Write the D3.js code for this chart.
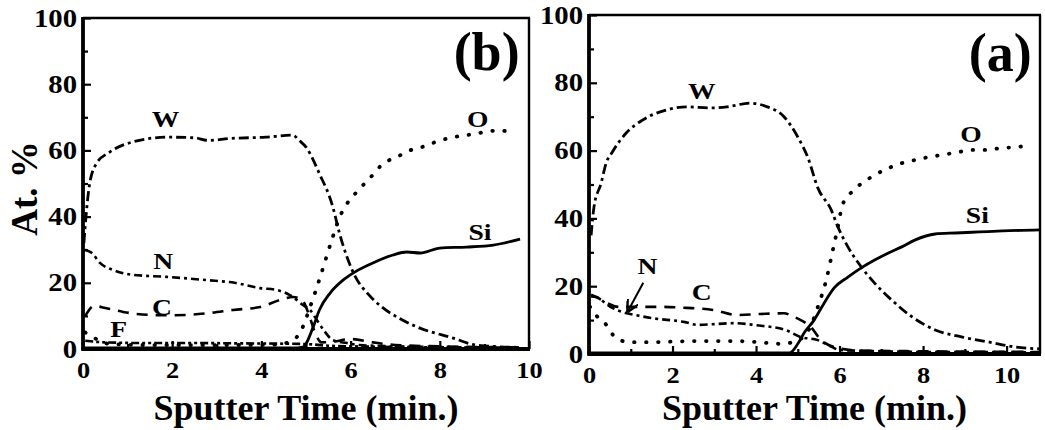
<!DOCTYPE html>
<html>
<head>
<meta charset="utf-8">
<script src="https://cdn.jsdelivr.net/npm/d3@7"></script>
<style>
  html, body { margin: 0; padding: 0; background: #fff; }
  svg { display: block; }
  text { font-family: "Liberation Serif", "Times New Roman", serif; font-weight: bold; fill: #000; }
</style>
</head>
<body>
<svg id="chart" width="1045" height="430"></svg>
<script>
// ---------- DATA ----------
const yTicksMajor = [0, 20, 40, 60, 80, 100];
const yTicksMinor = [10, 30, 50, 70, 90];
const xTicksB = [0, 2, 4, 6, 8, 10];
const xTicksA = [0, 2, 4, 6, 8, 10];
const xMinorB = [1, 3, 5, 7, 9];
const xMinorA = [1, 3, 5, 7, 9];
const xDomainB = [0, 10];
const xDomainA = [0, 10.8];
const yTitle = "At. %";
const xTitle = "Sputter Time (min.)";

// Panel (b) — [time (min), at.%]
const bW = [[0.02,32],[0.08,42],[0.15,50],[0.3,56],[0.6,59.5],[1.1,62.5],[1.9,64],[2.5,63.8],[2.8,63],[3.3,63.6],[4.1,64],[4.7,64.6],[4.85,63],[5.0,61],[5.3,53],[5.6,43],[5.75,35],[6.1,22],[6.4,16.5],[6.7,12.7],[7.1,9.2],[7.5,6.6],[8.3,3.3],[8.8,1.2],[9.3,0.7],[9.8,0.5]];
const bO = [[0.05,5],[0.3,3],[0.6,1.5],[1.5,1.2],[3,1.2],[4.3,1.3],[4.6,2],[4.86,4.8],[5.1,13],[5.3,21],[5.58,33],[5.76,40],[5.9,43.5],[6.14,47.5],[6.43,51.6],[6.73,56],[7.04,58],[7.33,60],[7.6,61],[7.9,62.5],[8.3,64],[8.6,64.6],[8.9,65.3],[9.3,66],[9.6,65.6]];
const bSi = [[0,0.3],[2,0.3],[4.7,0.3],[4.93,0.6],[5.16,6.6],[5.3,11.8],[5.54,16.9],[5.83,20.8],[6.1,23.3],[6.5,26],[6.95,28.4],[7.26,29.3],[7.56,29],[8.0,30.5],[8.6,30.8],[9.2,31.4],[9.8,33.2]];
const bN = [[0.05,30],[0.2,29],[0.38,26],[0.67,23.9],[1.12,22.4],[1.88,21.8],[2.78,20.8],[3.4,20],[3.97,18.4],[4.35,17.8],[4.64,16.3],[4.93,13.3],[5.09,11.8],[5.27,8.2],[5.43,5.1],[5.6,2.7],[5.92,1.8],[6.2,1.2],[7,0.8],[8,0.6],[9.8,0.4]];
const bC = [[0.05,10],[0.25,13],[0.5,12.4],[0.9,11.2],[1.2,10.6],[1.85,10.2],[2.33,10.3],[2.85,10.9],[3.36,11.8],[3.97,12.7],[4.42,14.8],[4.71,15.7],[4.9,15],[5.05,11],[5.2,5],[5.35,2],[5.6,2.2],[6.0,3],[6.5,2],[7,1.2],[8,0.8],[9.8,0.5]];
const bF = [[0.05,2.5],[0.5,2],[1.5,1.8],[2.5,1.8],[3.5,1.7],[4.5,1.6],[5,1.5],[5.5,1],[6.5,0.7],[8,0.5],[9.8,0.4]];

// Panel (a)
const aW = [[0.05,35],[0.12,43.4],[0.29,50.4],[0.41,56.3],[0.56,59.6],[0.89,65.2],[1.28,69],[1.86,72],[2.34,72.9],[2.9,72.6],[3.3,72.9],[3.86,74],[4.27,72.9],[4.67,70],[5.0,64],[5.24,58],[5.48,49],[5.8,42.5],[5.96,37.5],[6.2,31.6],[6.52,25.7],[6.84,20.9],[7.25,15.9],[7.73,11],[8.29,7.1],[8.94,5],[9.59,3.5],[10.2,2.1],[10.8,1.5]];
const aO = [[0.02,14],[0.2,11],[0.36,9.4],[0.65,4.7],[0.97,3.5],[1.5,3.5],[2.5,3.8],[3.5,3.8],[4.03,3.5],[4.6,3],[5.0,4],[5.3,8],[5.48,13.9],[5.68,21.8],[5.84,30.7],[5.96,37.5],[6.07,44],[6.35,48.4],[6.76,52.2],[7.08,54.3],[7.49,56.3],[7.8,57.2],[8.14,58.1],[8.45,58.7],[8.86,59.6],[9.18,60.2],[9.5,60.2],[9.9,60.8],[10.2,61],[10.6,61.7]];
const aSi = [[0,0.3],[2,0.3],[4.8,0.3],[5.0,3],[5.15,6.2],[5.39,10],[5.63,15],[5.87,19.5],[6.2,22.7],[6.52,25.4],[6.84,27.7],[7.17,29.8],[7.49,31.6],[7.8,33.6],[8.29,35.4],[8.78,35.7],[9.35,36],[9.9,36.3],[10.8,36.6]];
const aN = [[0.05,17],[0.17,16.8],[0.5,14],[0.9,12],[1.1,11.5],[1.5,10.6],[2.3,9.4],[2.6,8.6],[3.5,9.1],[4.0,8.5],[4.7,7.1],[5.07,5],[5.48,4.1],[5.75,2.5],[6,1.2],[7,0.8],[8,0.6],[9,0.6],[10.8,0.5]];
const aC = [[0.05,17.5],[0.17,16.8],[0.72,13.9],[1.7,13.9],[2.34,13.6],[2.97,13],[3.55,11.5],[4.1,11.8],[4.67,12],[4.9,11],[5.07,10],[5.31,8],[5.56,4.1],[5.96,1.8],[6.5,1],[8,0.8],[10.8,0.6]];

// ---------- DRAWING ----------
const svg = d3.select("#chart");

const styles = {
  W:  { dash: "10,4,3,4", w: 2.8, cap: "butt" },
  N:  { dash: "8,4,3,4", w: 2.6, cap: "butt" },
  C:  { dash: "11,8", w: 2.6, cap: "butt" },
  O:  { dash: "0.5,11.5", w: 3.8, cap: "round" },
  Si: { dash: null, w: 2.8, cap: "butt" },
  F:  { dash: "8,3,3,3,3,3", w: 2.6, cap: "butt" }
};

function drawPanel(cfg) {
  const x = d3.scaleLinear().domain(cfg.xDomain).range([cfg.x0, cfg.x1]);
  const y = d3.scaleLinear().domain([0, 100]).range([cfg.y0, cfg.y1]);
  const g = svg.append("g");

  const line = d3.line().x(d => x(d[0])).y(d => y(d[1])).curve(d3.curveMonotoneX);
  cfg.series.forEach(s => {
    const st = styles[s.key];
    g.append("path")
      .datum(s.data)
      .attr("d", line)
      .attr("fill", "none")
      .attr("stroke", "#000")
      .attr("stroke-width", st.w)
      .attr("stroke-linecap", st.cap)
      .attr("stroke-dasharray", st.dash);
  });

  // axes (inward ticks)
  const yMaj = g.append("g").attr("transform", `translate(${cfg.x0},0)`)
    .call(d3.axisLeft(y).tickValues(yTicksMajor).tickSize(-8).tickPadding(7));
  g.append("g").attr("transform", `translate(${cfg.x0},0)`)
    .call(d3.axisLeft(y).tickValues(yTicksMinor).tickSize(-5).tickFormat(""));
  const xMaj = g.append("g").attr("transform", `translate(0,${cfg.y0})`)
    .call(d3.axisBottom(x).tickValues(cfg.xTicks).tickSize(-8).tickPadding(12));
  g.append("g").attr("transform", `translate(0,${cfg.y0})`)
    .call(d3.axisBottom(x).tickValues(cfg.xMinor).tickSize(-5).tickFormat(""));
  g.selectAll(".domain").remove();
  g.selectAll(".tick line").attr("stroke", "#000").attr("stroke-width", 2.2);
  yMaj.selectAll("text").style("font-size", "25px").attr("x", null)
    .attr("transform", "translate(-6,0) scale(1.15,1)");
  xMaj.selectAll("text").style("font-size", "24px")
    .attr("transform", "scale(1.1,1)");

  // frame
  g.append("line").attr("x1", cfg.x0).attr("x2", cfg.x0).attr("y1", cfg.y1 - 1).attr("y2", cfg.y0 + 1.5)
    .attr("stroke", "#000").attr("stroke-width", 3.8);
  g.append("line").attr("x1", cfg.x0 - 1.5).attr("x2", cfg.x1 + 1).attr("y1", cfg.y0).attr("y2", cfg.y0)
    .attr("stroke", "#000").attr("stroke-width", 3.8);
  g.append("line").attr("x1", cfg.x0).attr("x2", cfg.x1 + 1).attr("y1", cfg.y1).attr("y2", cfg.y1)
    .attr("stroke", "#000").attr("stroke-width", 2.4);
  g.append("line").attr("x1", cfg.x1).attr("x2", cfg.x1).attr("y1", cfg.y1).attr("y2", cfg.y0)
    .attr("stroke", "#000").attr("stroke-width", 2.4);

  // curve labels
  cfg.labels.forEach(l => {
    g.append("text")
      .attr("transform", `translate(${x(l.t)},${y(l.v)}) scale(1.2,1)`)
      .attr("text-anchor", "middle")
      .attr("dy", "0.35em")
      .style("font-size", "23px")
      .text(l.text);
  });

  // panel tag
  g.append("text")
    .attr("x", x(cfg.tag.t)).attr("y", y(cfg.tag.v))
    .attr("text-anchor", "middle").attr("dy", "0.35em")
    .style("font-size", "54px")
    .text(cfg.tag.text);

  // x title
  g.append("text")
    .attr("x", (cfg.x0 + cfg.x1) / 2).attr("y", 420)
    .attr("text-anchor", "middle")
    .style("font-size", "36px")
    .text(xTitle);

  return { g, x, y };
}

const pb = drawPanel({
  x0: 83, x1: 529, y0: 349, y1: 18,
  xDomain: xDomainB, xTicks: xTicksB, xMinor: xMinorB,
  series: [
    { key: "F", data: bF }, { key: "C", data: bC }, { key: "N", data: bN },
    { key: "O", data: bO }, { key: "Si", data: bSi }, { key: "W", data: bW }
  ],
  labels: [
    { text: "W", t: 1.85, v: 69.5 }, { text: "O", t: 8.85, v: 69.5 },
    { text: "Si", t: 8.9, v: 35.5 }, { text: "N", t: 1.8, v: 26.5 },
    { text: "C", t: 1.77, v: 12.8 }, { text: "F", t: 0.8, v: 6 }
  ],
  tag: { text: "(b)", t: 9.05, v: 90 }
});

const pa = drawPanel({
  x0: 589, x1: 1040, y0: 354, y1: 15,
  xDomain: xDomainA, xTicks: xTicksA, xMinor: xMinorA,
  series: [
    { key: "C", data: aC }, { key: "N", data: aN }, { key: "O", data: aO },
    { key: "Si", data: aSi }, { key: "W", data: aW }
  ],
  labels: [
    { text: "W", t: 2.7, v: 77.5 }, { text: "O", t: 9.15, v: 65 },
    { text: "Si", t: 9.3, v: 41 }, { text: "N", t: 1.4, v: 26 },
    { text: "C", t: 2.7, v: 18.3 }
  ],
  tag: { text: "(a)", t: 9.85, v: 89 }
});

// arrow from N label to the N curve in panel (a)
const arrowStart = [1.3, 21];
const arrowEnd = [0.93, 12.6];
svg.append("defs").append("marker")
  .attr("id", "ah").attr("viewBox", "0 0 10 10").attr("refX", 9).attr("refY", 5)
  .attr("markerWidth", 6).attr("markerHeight", 6).attr("orient", "auto")
  .append("path").attr("d", "M0,0 L10,5 L0,10").attr("fill", "none").attr("stroke", "#000").attr("stroke-width", 2);
pa.g.append("line")
  .attr("x1", pa.x(arrowStart[0])).attr("y1", pa.y(arrowStart[1]))
  .attr("x2", pa.x(arrowEnd[0])).attr("y2", pa.y(arrowEnd[1]))
  .attr("stroke", "#000").attr("stroke-width", 2)
  .attr("marker-end", "url(#ah)");

// y title (left panel only)
svg.append("text")
  .attr("transform", `translate(37,${pb.y(50) + 5}) rotate(-90)`)
  .attr("text-anchor", "middle")
  .style("font-size", "37px")
  .text(yTitle);
</script>
</body>
</html>
